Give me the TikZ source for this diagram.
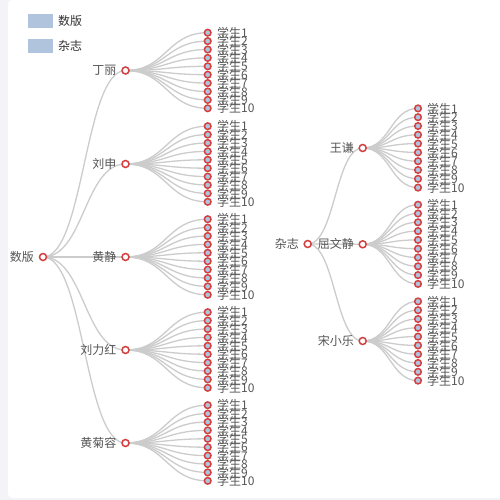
\documentclass[tikz,border=0pt]{standalone}
\usepackage{fontspec}
\newfontfamily\cjk{Noto Sans CJK SC}
\usetikzlibrary{calc}
\definecolor{bggray}{HTML}{F3F3F8}
\definecolor{edgegray}{HTML}{CCCCCC}
\definecolor{ringred}{HTML}{D4403F}
\definecolor{leafblue}{HTML}{B0C4DE}
\definecolor{textgray}{HTML}{555555}
\definecolor{legendtext}{HTML}{333333}
\pgfdeclarelayer{back}
\pgfdeclarelayer{bg}
\pgfsetlayers{back,bg,main}
\tikzset{
  edge/.style={draw=edgegray, line width=1.3pt},
  innernode/.style={circle, draw=ringred, fill=white, line width=1.5pt, minimum size=7pt, inner sep=0pt},
  leafnode/.style={circle, draw=ringred, fill=leafblue, line width=1.5pt, minimum size=6.6pt, inner sep=0pt},
  lbl/.style={font=\cjk\fontsize{12}{12}\selectfont, text=textgray, inner sep=0pt},
  legendbox/.style={fill=leafblue, minimum width=25pt, minimum height=14pt, inner sep=0pt},
  legendlbl/.style={font=\cjk\fontsize{12}{12}\selectfont, text=legendtext, inner sep=0pt, anchor=west},
}
\begin{document}
\begin{tikzpicture}[x=1pt,y=-1pt]
\useasboundingbox (0,0) rectangle (500,500);
\begin{pgfonlayer}{back}
\fill[bggray] (0,0) rectangle (500,500);
\fill[white, rounded corners=4pt] (8,0) rectangle (510,498);
\end{pgfonlayer}
% legend
\node[legendbox] (lg1) at (40.5,21) {};
\node[legendlbl] (lg1t) at (58,21) {数版};
\node[legendbox] (lg2) at (40.5,46) {};
\node[legendlbl] (lg2t) at (58,46) {杂志};
% left tree
\node[innernode] (L) at (43,257) {};
\node[lbl, anchor=east] (Lt) at (34,257) {数版};
\foreach \nm/\cy/\lab in {a/70.5/丁丽, b/164/刘申, c/257/黄静, d/350/刘力红, e/443/黄菊容} {
  \node[innernode] (L\nm) at (125.5,\cy) {};
  \node[lbl, anchor=east] (L\nm t) at (116.5,\cy) {\lab};
  \begin{pgfonlayer}{bg}
    \coordinate (m) at ($(L)!0.5!(L\nm)$);
    \draw[edge] (L.center) .. controls (m |- L.center) and (m |- L\nm.center) .. (L\nm.center);
  \end{pgfonlayer}
  \foreach \i in {1,...,10} {
    \node[leafnode] (L\nm\i) at (207.7,{\cy+(\i-5.5)*8.4}) {};
    \begin{pgfonlayer}{bg}
      \coordinate (mm) at ($(L\nm)!0.5!(L\nm\i)$);
      \draw[edge] (L\nm.center) .. controls (mm |- L\nm.center) and (mm |- L\nm\i.center) .. (L\nm\i.center);
    \end{pgfonlayer}
  }
  \foreach \i in {1,...,10} {
    \node[lbl, anchor=west] (L\nm\i t) at (217,{\cy+(\i-5.5)*8.4}) {学生\i};
  }
}
% right tree
\node[innernode] (R) at (307.7,244) {};
\node[lbl, anchor=east] (Rt) at (299,244) {杂志};
\foreach \nm/\cy/\lab in {a/148/王谦, b/244.3/屈文静, c/341/宋小乐} {
  \node[innernode] (R\nm) at (362.7,\cy) {};
  \node[lbl, anchor=east] (R\nm t) at (354,\cy) {\lab};
  \begin{pgfonlayer}{bg}
    \coordinate (m) at ($(R)!0.5!(R\nm)$);
    \draw[edge] (R.center) .. controls (m |- R.center) and (m |- R\nm.center) .. (R\nm.center);
  \end{pgfonlayer}
  \foreach \i in {1,...,10} {
    \node[leafnode] (R\nm\i) at (418,{\cy+(\i-5.5)*8.8}) {};
    \begin{pgfonlayer}{bg}
      \coordinate (mm) at ($(R\nm)!0.5!(R\nm\i)$);
      \draw[edge] (R\nm.center) .. controls (mm |- R\nm.center) and (mm |- R\nm\i.center) .. (R\nm\i.center);
    \end{pgfonlayer}
  }
  \foreach \i in {1,...,10} {
    \node[lbl, anchor=west] (R\nm\i t) at (427,{\cy+(\i-5.5)*8.8}) {学生\i};
  }
}
\end{tikzpicture}
\end{document}
